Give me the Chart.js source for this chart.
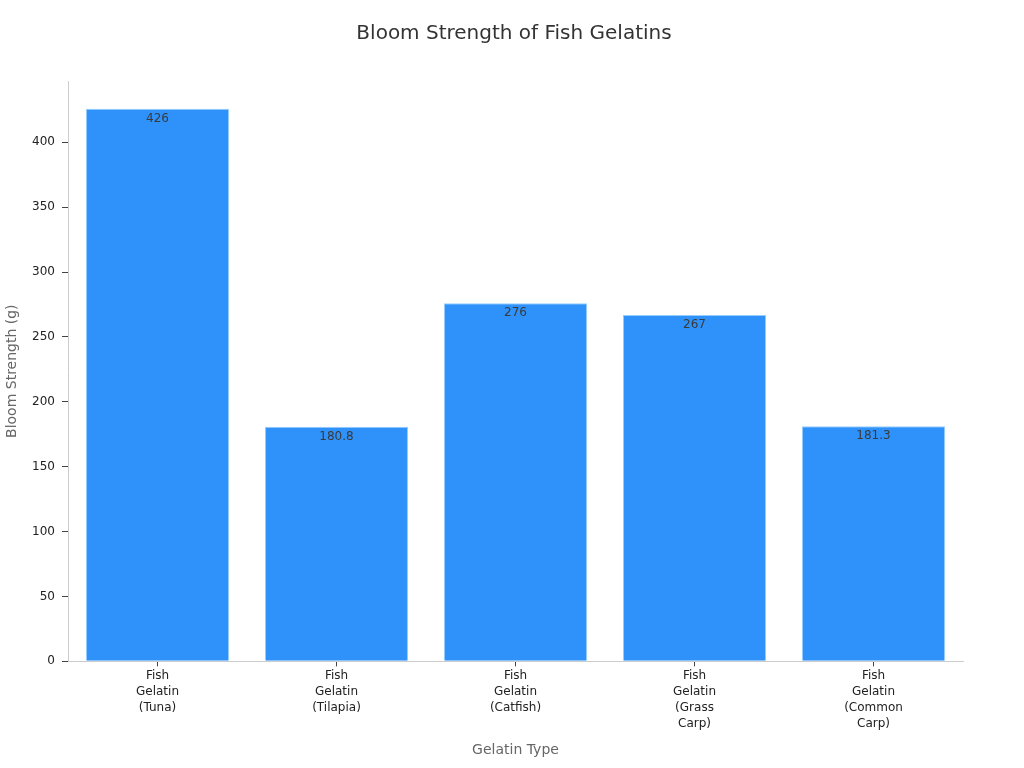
<!DOCTYPE html>
<html><head><meta charset="utf-8">
<script src="https://cdn.jsdelivr.net/npm/chart.js@4/dist/chart.umd.min.js"></script>
<style>html,body{margin:0;padding:0;background:#fff}#wrap{width:1024px;height:768px}</style>
</head><body><div id="wrap"><canvas id="c"></canvas></div>
<script>
const categories = [["Fish","Gelatin","(Tuna)"],["Fish","Gelatin","(Tilapia)"],["Fish","Gelatin","(Catfish)"],["Fish","Gelatin","(Grass","Carp)"],["Fish","Gelatin","(Common","Carp)"]];
const bloomValues = [426, 180.8, 276, 267, 181.3];
const yTicks = [0,50,100,150,200,250,300,350,400];

const labelPlugin = {
  id:'labels',
  afterDatasetsDraw(chart){
    const ctx = chart.ctx;
    const meta = chart.getDatasetMeta(0);
    ctx.save();
    ctx.font = '12px "DejaVu Sans"';
    ctx.fillStyle = '#3a3a3a';
    ctx.textAlign = 'center';
    ctx.textBaseline = 'middle';
    meta.data.forEach((bar,i)=>{
      ctx.fillText(String(bloomValues[i]), bar.x, bar.y + 10);
    });
    ctx.restore();
  }
};

new Chart(document.getElementById('c'), {
  type:'bar',
  data:{labels:categories, datasets:[{data:bloomValues, backgroundColor:'rgb(46,146,250)', borderColor:'rgba(150,205,255,1)', borderWidth:1, categoryPercentage:0.8, barPercentage:1.0}]},
  options:{
    responsive:true, maintainAspectRatio:false, animation:false,
    devicePixelRatio:1,
    layout:{padding:{left:4,right:0,top:0,bottom:1}},
    plugins:{
      legend:{display:false},
      tooltip:{enabled:false},
      title:{display:true, text:'Bloom Strength of Fish Gelatins', color:'#333', font:{family:'"DejaVu Sans"', size:20, weight:'normal'}, padding:{top:22,bottom:35}}
    },
    scales:{
      x:{
        grid:{display:true, offset:false, drawOnChartArea:false, drawTicks:true, tickLength:5, color:'#444'},
        border:{display:true,color:'#ccc'},
        ticks:{color:'#222', font:{family:'"DejaVu Sans"', size:12, lineHeight:1.33}, maxRotation:0, autoSkip:false, padding:2},
        title:{display:true, text:'Gelatin Type', color:'#666', font:{family:'"DejaVu Sans"', size:14}, padding:{top:8,bottom:8}}
      },
      y:{
        min:0, max:447.3,
        afterBuildTicks(scale){ scale.ticks = yTicks.map(v=>({value:v})); },
        grid:{display:true, drawOnChartArea:false, drawTicks:true, tickLength:6, color:'#444'},
        border:{display:true,color:'#ccc'},
        ticks:{color:'#222', font:{family:'"DejaVu Sans"', size:12}, padding:7},
        title:{display:true, text:'Bloom Strength (g)', color:'#666', font:{family:'"DejaVu Sans"', size:14}, padding:{top:0,bottom:4}},
        afterFit(scale){ scale.width = 64; }
      },
      y2:{
        position:'right', display:true,
        grid:{display:false}, border:{display:false},
        ticks:{display:false},
        afterFit(scale){ scale.width = 61; }
      }
    }
  },
  plugins:[labelPlugin]
});
</script></body></html>
